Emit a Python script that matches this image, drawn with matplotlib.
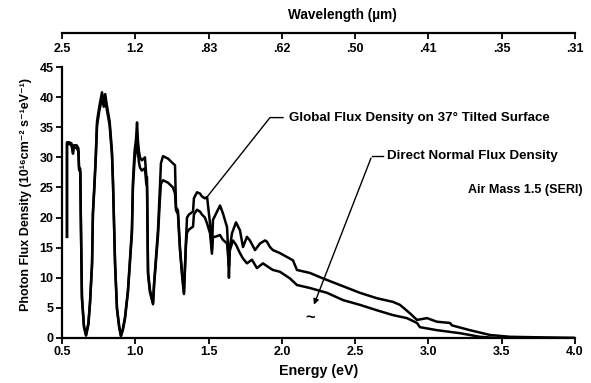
import matplotlib
matplotlib.use("Agg")
import matplotlib.pyplot as plt

# 光子通量密度 AM1.5 (SERI)，数值从图上读出，单位 10^16 cm^-2 s^-1 eV^-1
energy_global = [0.534, 0.534, 0.55, 0.565, 0.575, 0.58, 0.60, 0.612, 0.616, 0.625, 0.628, 0.636,
                 0.650, 0.664, 0.680, 0.691, 0.705, 0.711, 0.72, 0.73, 0.739, 0.755, 0.773, 0.785,
                 0.795, 0.807, 0.825, 0.841, 0.848, 0.862, 0.875, 0.890, 0.902, 0.915, 0.930, 0.950,
                 0.977, 0.984, 0.995, 1.005, 1.012, 1.018, 1.025, 1.032, 1.045, 1.066, 1.075, 1.080,
                 1.083, 1.087, 1.10, 1.121, 1.128, 1.14, 1.155, 1.168, 1.175, 1.189, 1.223, 1.257,
                 1.271, 1.278, 1.291, 1.305, 1.319, 1.332, 1.346, 1.353, 1.366, 1.394, 1.40, 1.421,
                 1.441, 1.455, 1.475, 1.49, 1.51, 1.523, 1.530, 1.578, 1.598, 1.626, 1.635, 1.639,
                 1.645, 1.660, 1.687, 1.714, 1.735, 1.762, 1.782, 1.817, 1.851, 1.885, 1.898, 1.919,
                 1.939, 1.987, 2.076, 2.103, 2.192, 2.280, 2.396, 2.533, 2.649, 2.758, 2.806, 2.874,
                 2.922, 2.990, 3.058, 3.147, 3.16, 3.283, 3.420, 3.556, 3.781, 4.0]
flux_global = [16.8, 32.5, 32.5, 32.3, 31.0, 32.0, 32.0, 31.5, 28.5, 28.0, 21.0, 7.0,
               2.0, 0.5, 2.5, 6.0, 12.5, 21.0, 25.0, 30.0, 36.0, 38.5, 40.8, 39.0,
               40.5, 38.5, 36.0, 31.0, 26.0, 12.5, 5.0, 2.0, 0.4, 1.5, 3.5, 8.0,
               18.0, 26.0, 31.0, 33.0, 35.8, 32.8, 31.0, 30.0, 29.5, 30.0, 27.0, 26.7,
               20.0, 11.0, 8.0, 5.8, 9.0, 13.0, 18.0, 25.0, 29.0, 30.2, 29.8, 29.0,
               28.7, 21.7, 21.2, 15.0, 10.8, 7.5, 16.3, 20.0, 20.5, 21.0, 23.2, 24.2,
               24.0, 23.5, 23.2, 23.4, 19.0, 14.6, 19.6, 22.0, 20.7, 18.4, 14.0, 12.0,
               15.0, 17.4, 19.2, 17.9, 15.1, 16.8, 16.2, 14.6, 15.7, 16.2, 16.0, 15.1,
               14.6, 14.1, 12.9, 11.3, 10.8, 9.9, 8.8, 7.5, 6.6, 6.0, 5.5, 4.1,
               3.0, 3.3, 2.7, 2.5, 2.1, 1.3, 0.5, 0.2, 0.1, 0.0]

energy_direct = [0.534, 0.534, 0.55, 0.565, 0.575, 0.58, 0.60, 0.612, 0.616, 0.625, 0.628, 0.636,
                 0.650, 0.664, 0.680, 0.691, 0.705, 0.711, 0.72, 0.73, 0.739, 0.755, 0.773, 0.785,
                 0.795, 0.807, 0.825, 0.841, 0.848, 0.862, 0.875, 0.890, 0.902, 0.915, 0.930, 0.950,
                 0.977, 0.984, 0.995, 1.005, 1.012, 1.018, 1.025, 1.032, 1.045, 1.066, 1.075, 1.080,
                 1.083, 1.087, 1.10, 1.121, 1.128, 1.14, 1.155, 1.168, 1.175, 1.189, 1.223, 1.257,
                 1.271, 1.278, 1.291, 1.305, 1.319, 1.332, 1.346, 1.353, 1.366, 1.394, 1.40, 1.421,
                 1.441, 1.455, 1.475, 1.49, 1.51, 1.523, 1.530, 1.544, 1.578, 1.598, 1.626, 1.635,
                 1.639, 1.645, 1.666, 1.687, 1.714, 1.735, 1.762, 1.796, 1.830, 1.871, 1.919, 1.939,
                 1.987, 2.055, 2.103, 2.192, 2.308, 2.417, 2.533, 2.649, 2.758, 2.853, 2.922, 2.942,
                 3.058, 3.215, 3.351, 3.467, 4.0]
flux_direct = [16.8, 32.3, 32.2, 32.0, 30.6, 31.6, 31.6, 31.0, 28.0, 27.5, 20.5, 6.5,
               1.8, 0.4, 2.2, 5.6, 12.0, 20.5, 24.5, 29.5, 35.2, 37.8, 39.8, 38.4,
               39.6, 37.8, 35.3, 30.4, 25.5, 12.2, 4.8, 1.8, 0.3, 1.3, 3.2, 7.6,
               17.3, 25.0, 29.5, 31.5, 33.5, 30.8, 29.2, 28.3, 27.8, 28.2, 25.6, 25.2,
               19.0, 10.5, 7.6, 5.6, 8.6, 12.4, 17.0, 23.0, 25.6, 26.2, 25.8, 25.0,
               24.0, 21.2, 20.6, 14.6, 10.5, 7.3, 15.5, 17.5, 18.0, 18.5, 20.5, 21.3,
               21.0, 20.5, 20.0, 19.0, 17.4, 14.0, 16.8, 16.8, 17.1, 16.3, 15.7, 13.0,
               10.0, 14.5, 16.2, 15.5, 14.1, 13.2, 12.4, 13.0, 11.6, 12.4, 11.6, 11.3,
               11.0, 9.9, 8.8, 8.3, 7.5, 6.3, 5.5, 4.6, 3.8, 3.3, 2.5, 1.8,
               1.3, 0.8, 0.2, 0.0, 0.0]

energy_ticks = [0.5, 1.0, 1.5, 2.0, 2.5, 3.0, 3.5, 4.0]
energy_labels = ['0.5', '1.0', '1.5', '2.0', '2.5', '3.0', '3.5', '4.0']
wavelength_labels = ['2.5', '1.2', '.83', '.62', '.50', '.41', '.35', '.31']

plt.rcParams['font.family'] = ['Liberation Sans', 'DejaVu Sans']
plt.rcParams['font.weight'] = 'bold'

fig = plt.figure(figsize=(5.91, 3.83), dpi=100)
ax = fig.add_axes([0.1049, 0.1175, 0.868, 0.7075])

ax.plot(energy_global, flux_global, color='black', lw=1.8)
ax.plot(energy_direct, flux_direct, color='black', lw=1.8)

ax.set_xlim(0.5, 4.0)
ax.set_ylim(0, 45)
ax.set_xticks(energy_ticks)
ax.set_xticklabels(energy_labels)
ax.set_yticks(range(0, 46, 5))
ax.spines['top'].set_visible(False)
ax.spines['right'].set_visible(False)
ax.spines['left'].set_linewidth(1.6)
ax.spines['bottom'].set_linewidth(1.6)
ax.tick_params(direction='out', length=4, width=1.3, labelsize=9, pad=2)
for lab in ax.get_xticklabels() + ax.get_yticklabels():
    lab.set_fontweight('bold')

ax.set_xlabel('Energy (eV)', fontsize=10.3, fontweight='bold', labelpad=4)
# 上标用 unicode 字符，Liberation 里没有的会落到 DejaVu
ax.set_ylabel('Photon Flux Density (10\u00b9\u2076cm\u207b\u00b2 s\u207b\u00b9eV\u207b\u00b9)',
              fontsize=9, fontweight='bold')
ax.yaxis.set_label_coords(-0.058, 0.53)

# 顶部波长坐标轴
ax_top = fig.add_axes([0.1049, 0.9138, 0.868, 0.0001])
ax_top.set_xlim(0.5, 4.0)
ax_top.set_yticks([])
for s in ['top', 'left', 'right']:
    ax_top.spines[s].set_visible(False)
ax_top.spines['bottom'].set_linewidth(1.6)
ax_top.patch.set_visible(False)
ax_top.set_xticks(energy_ticks)
ax_top.set_xticklabels(wavelength_labels)
ax_top.tick_params(direction='out', length=4, width=1.3, labelsize=9, pad=3)
for lab in ax_top.get_xticklabels():
    lab.set_fontweight('bold')
fig.text(342 / 591, 1 - 15 / 383, 'Wavelength (\u00b5m)', ha='center', va='center',
         fontsize=9.8, fontweight='bold')

# 标注
ax.plot([1.489, 1.919, 2.008], [23.4, 36.6, 36.6], color='black', lw=1.0)
ax.text(2.05, 36.6, 'Global Flux Density on 37\u00b0 Tilted Surface', fontsize=9.6,
        fontweight='bold', va='center', ha='left')
ax.plot([2.615, 2.69], [30.3, 30.3], color='black', lw=1.0)
ax.annotate('', xy=(2.212, 5.1), xytext=(2.615, 30.3),
            arrowprops=dict(arrowstyle='-|>', color='black', lw=1.0, mutation_scale=8))
ax.text(2.717, 30.3, 'Direct Normal Flux Density', fontsize=9.6, fontweight='bold',
        va='center', ha='left')
ax.text(2.19, 3.4, '~', fontsize=12, ha='center', va='center')
ax.text(4.054, 24.5, 'Air Mass 1.5 (SERI)', fontsize=9, fontweight='bold',
        va='center', ha='right')

fig.savefig('out.png', dpi=100)
